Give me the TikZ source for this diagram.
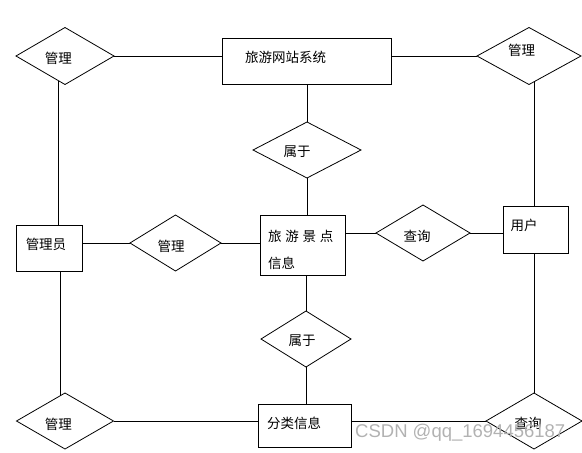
\documentclass[tikz,border=0pt]{standalone}
\usepackage{fontspec}
\setmainfont{Liberation Sans}
\newfontfamily\cjk{Noto Sans CJK SC}
\usetikzlibrary{shapes.geometric}
\tikzset{
  rel/.style={draw=black, diamond, inner sep=0pt, outer sep=0pt, line width=0.8pt},
  ent/.style={draw=black, rectangle, inner sep=0pt, outer sep=0pt, line width=0.8pt},
  txt/.style={font=\cjk\fontsize{13.5}{16}\selectfont, inner sep=0pt, text=black},
  conn/.style={line width=0.8pt, black},
  wmark/.style={font=\fontsize{18.5}{20}\selectfont, text=black!30, inner sep=0pt, anchor=west}
}
\begin{document}
\begin{tikzpicture}[x=1pt, y=-1pt]
\useasboundingbox (0,0) rectangle (582,453);
% relationships (diamonds)
\node[rel, minimum width=98pt, minimum height=57pt,
  label={[txt, xshift=-6.5pt, yshift=-2.7pt]center:管理}] (d1) at (65,56) {};
\node[rel, minimum width=104pt, minimum height=57pt,
  label={[txt, xshift=-7.5pt, yshift=5.5pt]center:管理}] (d2) at (529,56) {};
\node[rel, minimum width=108pt, minimum height=56pt,
  label={[txt, xshift=-10pt, yshift=-2pt]center:属于}] (r1) at (307,150) {};
\node[rel, minimum width=91pt, minimum height=56pt,
  label={[txt, xshift=-4.5pt, yshift=-3.7pt]center:管理}] (m) at (175.5,243) {};
\node[rel, minimum width=94pt, minimum height=56pt,
  label={[txt, xshift=-6pt, yshift=-3.7pt]center:查询}] (q1) at (423,233) {};
\node[rel, minimum width=90pt, minimum height=56pt,
  label={[txt, xshift=-4pt, yshift=-1.7pt]center:属于}] (r2) at (306,339) {};
\node[rel, minimum width=97pt, minimum height=56pt,
  label={[txt, xshift=-6.5pt, yshift=-3pt]center:管理}] (d5) at (65,421) {};
\node[rel, minimum width=96pt, minimum height=56pt,
  label={[txt, xshift=-6pt, yshift=-2.3pt]center:查询}] (q2) at (534,421) {};
% entities (rectangles)
\node[ent, minimum width=169pt, minimum height=46pt,
  label={[txt, anchor=west, xshift=23pt, yshift=3.5pt]west:旅游网站系统}] (sys) at (306.5,61) {};
\node[ent, minimum width=66pt, minimum height=46pt,
  label={[txt, xshift=-3pt, yshift=4pt]center:管理员}] (adm) at (49,248) {};
\node[ent, minimum width=85pt, minimum height=60pt,
  label={[txt, anchor=west, xshift=8pt, yshift=9pt]west:旅\hspace{3.7pt}游\hspace{3.7pt}景\hspace{3.7pt}点},
  label={[txt, anchor=west, xshift=8pt, yshift=-18pt]west:信息}] (info) at (302.5,245) {};
\node[ent, minimum width=65pt, minimum height=47pt,
  label={[txt, xshift=-11.5pt, yshift=3.8pt]center:用户}] (user) at (535.5,229.5) {};
\node[ent, minimum width=93pt, minimum height=43pt,
  label={[txt, anchor=west, xshift=9pt, yshift=2.5pt]west:分类信息}] (cat) at (304.5,425.5) {};
% connectors
\draw[conn] (d1.east) -- (d1.east -| sys.west);
\draw[conn] (d2.west -| sys.east) -- (d2.west);
\draw[conn] (r1.north |- sys.south) -- (r1.north);
\draw[conn] (r1.south) -- (r1.south |- info.north);
\draw[conn] (d1.256.5) -- (d1.256.5 |- adm.north);
\draw[conn] (d5.101.3 |- adm.south) -- (d5.101.3);
\draw[conn] (m.west -| adm.east) -- (m.west);
\draw[conn] (m.east) -- (m.east -| info.west);
\draw[conn] (q1.west -| info.east) -- (q1.west);
\draw[conn] (q1.east) -- (q1.east -| user.west);
\draw[conn] (d2.281) -- (d2.281 |- user.north);
\draw[conn] (q2.north |- user.south) -- (q2.north);
\draw[conn] (r2.north |- info.south) -- (r2.north);
\draw[conn] (r2.south) -- (r2.south |- cat.north);
\draw[conn] (d5.east) -- (d5.east -| cat.west);
\draw[conn] (q2.west -| cat.east) -- (q2.west);
% watermark
\node[wmark] (wm) at (355,433) {CSDN @qq\_1694456187};
\end{tikzpicture}
\end{document}
